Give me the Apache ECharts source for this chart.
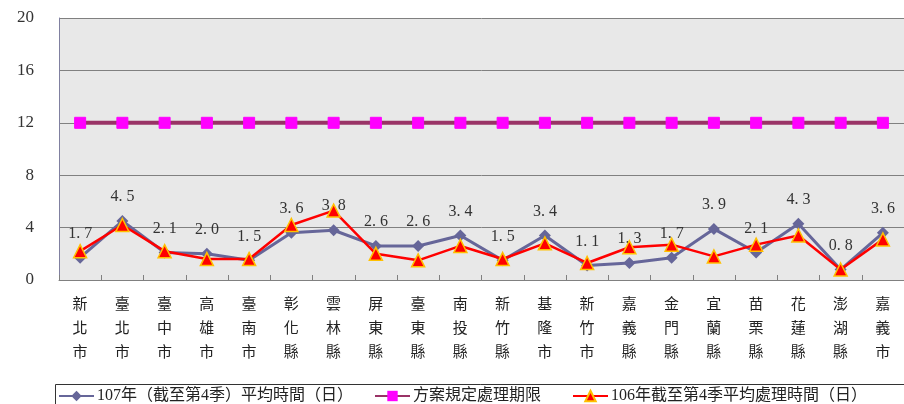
<!DOCTYPE html>
<html><head><meta charset="utf-8">
<script src="https://cdn.jsdelivr.net/npm/echarts@6/dist/echarts.min.js"></script>
<style>html,body{margin:0;padding:0;background:#fff}#c{width:904px;height:404px}</style>
</head><body><div id="c"></div>
<script>
const categories = ['新北市','臺北市','臺中市','高雄市','臺南市','彰化縣','雲林縣','屏東縣','臺東縣','南投縣','新竹縣','基隆市','新竹市','嘉義縣','金門縣','宜蘭縣','苗栗縣','花蓮縣','澎湖縣','嘉義市'];
const s107 = [1.7,4.5,2.1,2.0,1.5,3.6,3.8,2.6,2.6,3.4,1.5,3.4,1.1,1.3,1.7,3.9,2.1,4.3,0.8,3.6];
const sLimit = [12,12,12,12,12,12,12,12,12,12,12,12,12,12,12,12,12,12,12,12];
const s106 = [2.2,4.2,2.2,1.6,1.6,4.2,5.3,2.0,1.5,2.6,1.6,2.8,1.3,2.5,2.7,1.8,2.7,3.4,0.8,3.1];
const yTicks = [0,4,8,12,16,20];
const names = ['107年（截至第4季）平均時間（日）','方案規定處理期限','106年截至第4季平均處理時間（日）'];

const FONT = '"Liberation Serif", "Noto Sans CJK TC", serif';
const chart = echarts.init(document.getElementById('c'), null, {renderer:'canvas'});
function leg(name, left){
  return {data:[name], left:left, top:388, padding:0, itemWidth:35, itemHeight:13, itemGap:0,
    textStyle:{fontFamily:FONT, fontSize:16, color:'#222', padding:[0,0,0,-2]}};
}
chart.setOption({
  animation:false,
  backgroundColor:'#fff',
  graphic:[{type:'rect', left:53, top:382, shape:{width:853, height:30}, style:{fill:'none', stroke:'#333', lineWidth:1}, z:-1}],
  legend:[leg(names[0],58), leg(names[1],374), leg(names[2],572)],
  grid:{left:59, right:-3, top:18, bottom:124, show:true, backgroundColor:'#E8E8E8', borderWidth:0},
  xAxis:{type:'category', data:categories, boundaryGap:true,
    axisLine:{show:true, lineStyle:{color:'#808080', width:1}},
    axisTick:{show:true, inside:true, length:5, alignWithLabel:false, lineStyle:{color:'#808080'}},
    axisLabel:{interval:0, margin:13, fontFamily:FONT, fontSize:15, lineHeight:24, color:'#222',
      formatter:v=>v.split('').join('\n')}
  },
  yAxis:{type:'value', min:yTicks[0], max:yTicks[yTicks.length-1], interval:4,
    axisLine:{show:true, lineStyle:{color:'#8080A0', width:1}},
    axisTick:{show:false},
    splitLine:{show:true, lineStyle:{color:'#808080', width:1}},
    axisLabel:{margin:25, fontFamily:FONT, fontSize:17, color:'#333'}
  },
  series:[
    {name:names[0], type:'line', data:s107, symbol:'diamond', symbolSize:12,
      lineStyle:{color:'#666699', width:3}, itemStyle:{color:'#666699'},
      label:{show:true, position:'top', distance:10, fontFamily:FONT, fontSize:16, color:'#333',
        formatter:p=>p.value.toFixed(1).replace('.', '. ')}, z:3},
    {name:names[1], type:'line', data:sLimit, symbol:'rect', symbolSize:11,
      lineStyle:{color:'#993366', width:4}, itemStyle:{color:'#FF00FF', borderColor:'#FF00FF'}, z:2},
    {name:names[2], type:'line', data:s106, symbol:'triangle', symbolSize:13,
      lineStyle:{color:'#FF0000', width:2.5}, itemStyle:{color:'#FF0000', borderColor:'#FFC000', borderWidth:1.5}, z:4}
  ]
});
</script></body></html>
